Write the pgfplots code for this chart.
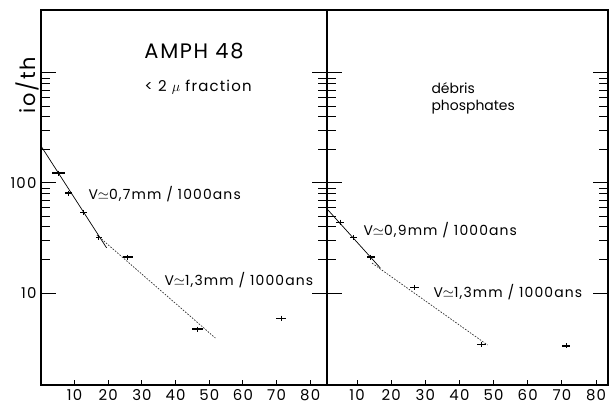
\documentclass[border=0pt]{standalone}
\usepackage{pgfplots}
\pgfplotsset{compat=1.18}
\usepackage{fontspec}
\setmainfont{Poppins}
\newfontfamily\lbl[LetterSpace=8]{Poppins}

\pgfplotstableread{
x y ex
5.2 123 2.0
8.2 81 1.1
12.7 54 1.0
17.2 32 1.0
25.8 21.2 1.5
46.5 4.7 1.5
71.4 5.9 1.5
}\leftpts
\pgfplotstableread{
x y ex
5.0 44 1.3
9.0 32 1.0
14.0 21.2 1.2
26.7 11.3 1.3
46.5 3.4 1.3
71.3 3.3 1.2
}\rightpts

\begin{document}
\begin{tikzpicture}[x=1bp,y=1bp]
\path[use as bounding box] (0,0) rectangle (612,407);

\begin{axis}[scale only axis, width=286bp, height=375bp, anchor=south west, at={(41bp,22bp)},
  xmin=0, xmax=85, ymode=log, ymin=1.458, ymax=3738,
  axis line style={line width=1.2bp},
  tick style={black, line width=1bp},
  major tick length=15bp, minor tick length=9bp,
  xtick={10,20,...,80}, xtick pos=left,
  xtick style={/pgfplots/major tick length=5bp},
  ytick={10,100,1000},
  yticklabels={10,100,{}},
  tick label style={font=\lbl\fontsize{15}{15}\selectfont},
  /pgf/number format/assume math mode=true,
  xticklabel style={yshift=-1bp},
  yticklabel style={xshift=-1bp},
  ylabel={io/th},
  every axis y label/.style={at={(rel axis cs:-0.049,0.8)}, rotate=90, anchor=center,
    font=\lbl\fontsize{21}{21}\selectfont},
]
\addplot[only marks, mark=|, mark size=2.5bp, mark options={line width=0.8bp}, error bars/x dir=both, error bars/x explicit,
  error bars/error mark=none, error bars/error bar style={black, line width=1.3bp}]
  table[x=x, y=y, x error=ex] {\leftpts};
\addplot[black, line width=0.7bp] coordinates {(0,217) (19.5,25.7)};
\addplot[black!80, line width=0.7bp, dash pattern=on 1.6bp off 1.4bp] coordinates {(16.6,33.7) (51.8,3.9)};
\end{axis}

\begin{axis}[scale only axis, width=281bp, height=375bp, anchor=south west, at={(327bp,22bp)},
  xmin=1.2, xmax=83.5, ymode=log, ymin=1.458, ymax=3738,
  axis line style={line width=1.2bp},
  tick style={black, line width=1bp},
  major tick length=15bp, minor tick length=9bp,
  xtick={10,20,...,80}, xtick pos=left,
  xtick style={/pgfplots/major tick length=5bp},
  ytick={10,100,1000},
  yticklabels={},
  tick label style={font=\lbl\fontsize{15}{15}\selectfont},
  /pgf/number format/assume math mode=true,
  xticklabel style={yshift=-1bp},
]
\addplot[only marks, mark=|, mark size=2.5bp, mark options={line width=0.8bp}, error bars/x dir=both, error bars/x explicit,
  error bars/error mark=none, error bars/error bar style={black, line width=1.3bp}]
  table[x=x, y=y, x error=ex] {\rightpts};
\addplot[black, line width=0.7bp] coordinates {(0.8,60) (16.8,16.9)};
\addplot[black!80, line width=0.7bp, dash pattern=on 1.6bp off 1.4bp] coordinates {(14.4,18.7) (48.2,3.37)};
\end{axis}

\node[font=\lbl\fontsize{21}{21}\selectfont] at (194,356) {AMPH 48};
\node[anchor=west, font=\lbl\fontsize{15}{15}\selectfont] at (141,320) {< 2 $\mu$ fraction};
\node[anchor=west, font=\lbl\fontsize{14}{14}\selectfont] at (85,213) {V$\simeq$0,7mm / 1000ans};
\node[anchor=west, font=\lbl\fontsize{14}{14}\selectfont] at (161,127) {V$\simeq$1,3mm / 1000ans};
\node[anchor=west, font=\lbl\fontsize{14}{14}\selectfont] at (360,177) {V$\simeq$0,9mm / 1000ans};
\node[anchor=west, font=\lbl\fontsize{14}{14}\selectfont] at (430,115) {V$\simeq$1,3mm / 1000ans};
\node[anchor=west, font=\fontsize{14}{14}\selectfont] at (428,319) {débris};
\node[anchor=west, font=\fontsize{14}{14}\selectfont] at (428,300) {phosphates};
\end{tikzpicture}
\end{document}
